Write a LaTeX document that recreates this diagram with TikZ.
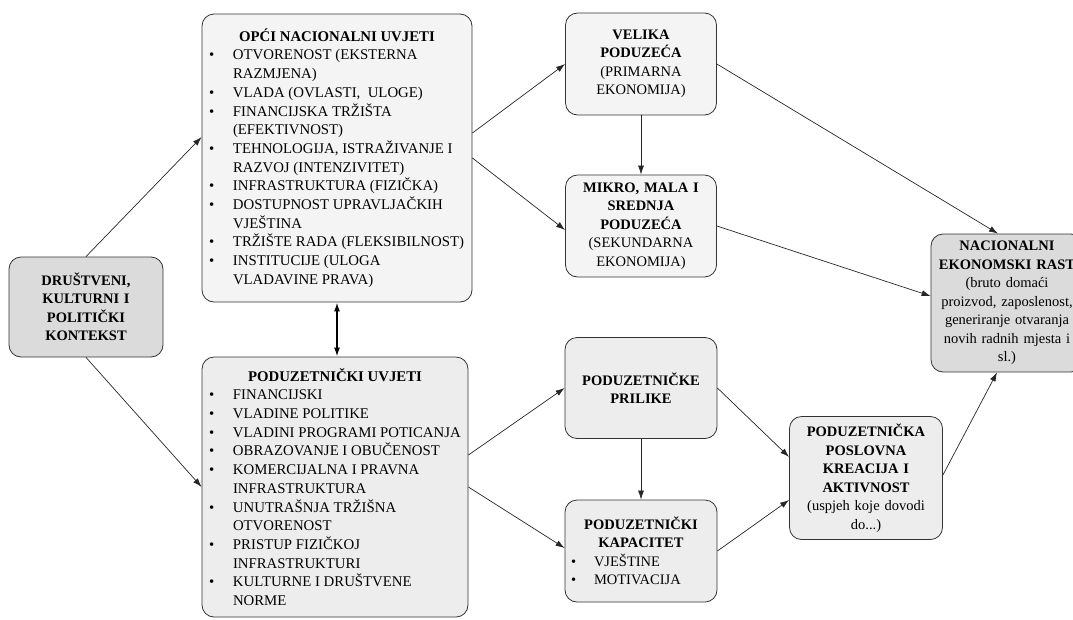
\documentclass[tikz,border=0pt]{standalone}
\usepackage{fontspec}
\setmainfont{Liberation Serif}
\usetikzlibrary{arrows.meta}
\newcommand{\bul}{\makebox[24pt][l]{\textbullet}}
\newcommand{\nast}{\hspace*{24pt}}
\newcommand{\naslov}[2]{\makebox[#1]{\textbf{#2}}}
\tikzset{
  okvir/.style={draw=black!80, line width=0.8pt, rounded corners=12pt, fill=gray!14,
    inner sep=3pt, font=\fontsize{14.5}{18.5}\selectfont},
  svijetli/.style={okvir, fill=gray!9},
  tamni/.style={okvir, fill=gray!28},
  lista/.style={align=left, font=\fontsize{14.8}{18.7}\selectfont},
  veza/.style={-{Latex[length=9pt,width=6pt]}, line width=0.7pt, black!85},
}
\begin{document}
\begin{tikzpicture}[x=1pt,y=-1pt]
\useasboundingbox (0,0) rectangle (1073,619);
% kontekst
\node[tamni, minimum width=154pt, minimum height=100pt, text width=140pt, align=center, font=\fontsize{14.5}{18.5}\selectfont\bfseries] (drus) at (86,307)
  {DRUŠTVENI,\\ KULTURNI I\\ POLITIČKI\\ KONTEKST};
% uvjeti
\node[svijetli, lista, minimum width=270pt, minimum height=288pt] (opci) at (337,158)
  {\naslov{256pt}{OPĆI NACIONALNI UVJETI}\\
   \bul OTVORENOST (EKSTERNA\\ \nast RAZMJENA)\\
   \bul VLADA (OVLASTI,\ \ ULOGE)\\
   \bul FINANCIJSKA TRŽIŠTA\\ \nast (EFEKTIVNOST)\\
   \bul TEHNOLOGIJA, ISTRAŽIVANJE I\\ \nast RAZVOJ (INTENZIVITET)\\
   \bul INFRASTRUKTURA (FIZIČKA)\\
   \bul DOSTUPNOST UPRAVLJAČKIH\\ \nast VJEŠTINA\\
   \bul TRŽIŠTE RADA (FLEKSIBILNOST)\\
   \bul INSTITUCIJE (ULOGA\\ \nast VLADAVINE PRAVA)};
\node[okvir, lista, minimum width=266pt, minimum height=260pt] (pouv) at (335,487)
  {\naslov{252pt}{PODUZETNIČKI UVJETI}\\
   \bul FINANCIJSKI\\
   \bul VLADINE POLITIKE\\
   \bul VLADINI PROGRAMI POTICANJA\\
   \bul OBRAZOVANJE I OBUČENOST\\
   \bul KOMERCIJALNA I PRAVNA\\ \nast INFRASTRUKTURA\\
   \bul UNUTRAŠNJA TRŽIŠNA\\ \nast OTVORENOST\\
   \bul PRISTUP FIZIČKOJ\\ \nast INFRASTRUKTURI\\
   \bul KULTURNE I DRUŠTVENE\\ \nast NORME};
% poduzeca
\node[svijetli, minimum width=151pt, minimum height=102pt, text width=140pt, align=center] (vel) at (641,64)
  {\textbf{VELIKA}\\ \textbf{PODUZEĆA}\\ (PRIMARNA\\ EKONOMIJA)};
\node[svijetli, minimum width=151pt, minimum height=102pt, text width=140pt, align=center] (mikro) at (641,226)
  {\textbf{MIKRO, MALA I}\\ \textbf{SREDNJA}\\ \textbf{PODUZEĆA}\\ (SEKUNDARNA\\ EKONOMIJA)};
% prilike i kapacitet
\node[okvir, minimum width=152pt, minimum height=101pt, text width=140pt, align=center] (pril) at (641,388)
  {\textbf{PODUZETNIČKE}\\ \textbf{PRILIKE}};
\node[okvir, minimum width=152pt, minimum height=102pt, align=left] (kap) at (641,551)
  {\naslov{140pt}{PODUZETNIČKI}\\ \naslov{140pt}{KAPACITET}\\
   \makebox[23pt][l]{\textbullet}VJEŠTINE\\ \makebox[23pt][l]{\textbullet}MOTIVACIJA};
\node[okvir, minimum width=153pt, minimum height=123pt, text width=144pt, align=center] (posl) at (866,478)
  {\textbf{PODUZETNIČKA}\\ \textbf{POSLOVNA}\\ \textbf{KREACIJA I}\\ \textbf{AKTIVNOST}\\ (uspjeh koje dovodi\\ do...)};
% rast
\node[tamni, minimum width=148pt, minimum height=138pt, text width=146pt, align=center] (nac) at (1007,303)
  {\textbf{NACIONALNI}\\ \textbf{EKONOMSKI RAST}\\ (bruto domaći\\ proizvod, zaposlenost,\\ generiranje otvaranja\\ novih radnih mjesta i\\ sl.)};
% veze
\draw[veza] (drus.north) -- ([yshift=21pt]opci.west);
\draw[veza] (drus.south) -- (pouv.west);
\draw[{Latex[length=9pt,width=6pt]}-{Latex[length=9pt,width=6pt]}, line width=1.6pt] (opci.south) -- (opci.south |- pouv.north);
\draw[veza] ([yshift=25pt]opci.east) -- (vel.west);
\draw[veza] (opci.east) -- ([yshift=-4pt]mikro.west);
\draw[veza] (vel.south) -- (mikro.north);
\draw[veza] (vel.east) -- ([xshift=-9pt]nac.north);
\draw[veza] (mikro.east) -- ([yshift=7pt]nac.west);
\draw[veza] ([yshift=32pt]pouv.east) -- (pril.west);
\draw[veza] (pouv.east) -- ([yshift=3pt]kap.west);
\draw[veza] (pril.south) -- (kap.north);
\draw[veza] (pril.east) -- ([yshift=21pt]posl.west);
\draw[veza] (kap.east) -- ([yshift=-22pt]posl.west);
\draw[veza] ([yshift=3pt]posl.east) -- ([xshift=-10pt]nac.south);
\end{tikzpicture}
\end{document}
